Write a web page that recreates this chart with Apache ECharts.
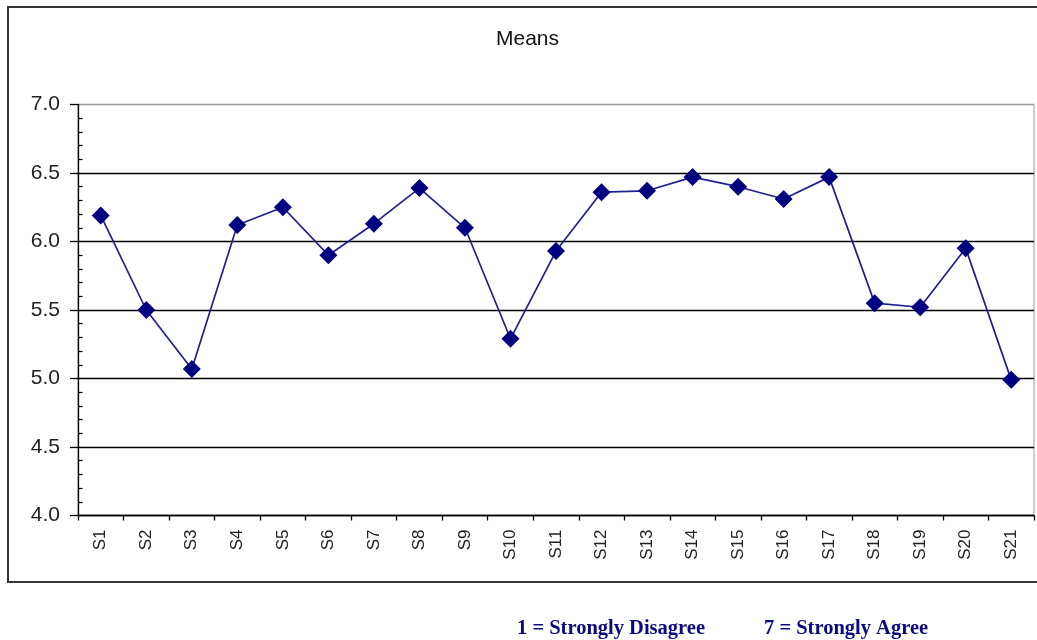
<!DOCTYPE html>
<html>
<head>
<meta charset="utf-8">
<script src="https://cdn.jsdelivr.net/npm/echarts@6/dist/echarts.min.js"></script>
<style>
html,body{margin:0;padding:0;background:#fff;}
#c{width:1037px;height:640px;}
</style>
</head>
<body>
<div id="c"></div>
<script>
const categories = ['S1','S2','S3','S4','S5','S6','S7','S8','S9','S10','S11','S12','S13','S14','S15','S16','S17','S18','S19','S20','S21'];
const means = [6.19, 5.50, 5.07, 6.12, 6.25, 5.90, 6.13, 6.39, 6.10, 5.29, 5.93, 6.36, 6.37, 6.47, 6.40, 6.31, 6.47, 5.55, 5.52, 5.95, 4.99];
const yTicks = { min: 4, max: 7, step: 0.5 };
const titleText = 'Means';
const noteLeft = '1 = Strongly Disagree';
const noteRight = '7 = Strongly Agree';

const chart = echarts.init(document.getElementById('c'), null, { renderer: 'canvas' });
const sansFont = "'Liberation Sans', Arial, sans-serif";
const gridColors = ['#000', '#000', '#000', '#000', '#000', '#000', '#9a9a9a'];
const noteFont = "bold 20.5px 'Liberation Serif', 'Times New Roman', serif";

chart.setOption({
  animation: false,
  backgroundColor: '#fff',
  title: {
    text: titleText,
    left: 496, top: 29, padding: 0,
    textStyle: { fontFamily: sansFont, fontSize: 21, fontWeight: 'normal', color: '#111' }
  },
  grid: {
    left: 78, right: 3, top: 104.5, bottom: 124.5,
    show: true, borderColor: '#9a9a9a', borderWidth: 1, backgroundColor: 'transparent'
  },
  xAxis: {
    type: 'category',
    data: categories,
    boundaryGap: true,
    axisLine: { lineStyle: { color: '#000', width: 1.3 } },
    axisTick: { show: true, length: 5, lineStyle: { color: '#000', width: 1.3 } },
    axisLabel: { rotate: 90, margin: 14, fontFamily: sansFont, fontSize: 17, color: '#222', interval: 0 },
    splitLine: { show: false }
  },
  yAxis: [
    {
      type: 'value',
      min: yTicks.min, max: yTicks.max, interval: yTicks.step,
      axisLine: { show: true, lineStyle: { color: '#000', width: 1.3 } },
      axisTick: { show: true, length: 8, lineStyle: { color: '#000', width: 1.3 } },
      axisLabel: { margin: 18, fontFamily: sansFont, fontSize: 21, color: '#222', formatter: v => v.toFixed(1) },
      splitLine: { show: true, lineStyle: { color: gridColors, width: 1.3 } }
    },
    {
      type: 'value',
      position: 'left',
      min: yTicks.min, max: yTicks.max, interval: yTicks.step,
      axisLine: { show: false },
      axisTick: { show: false, inside: true },
      minorTick: { show: true, splitNumber: 5, length: 4.5, lineStyle: { color: '#000', width: 1.3 } },
      axisLabel: { show: false },
      splitLine: { show: false }
    }
  ],
  series: [{
    type: 'line',
    name: titleText,
    data: means,
    yAxisIndex: 0,
    symbol: 'diamond',
    symbolSize: 18,
    itemStyle: { color: '#000080' },
    lineStyle: { color: '#202090', width: 1.7 },
    z: 5
  }],
  graphic: [
    {
      type: 'rect', silent: true, z: -1,
      shape: { x: 8, y: 7, width: 1040, height: 575 },
      style: { fill: 'none', stroke: '#333', lineWidth: 2 }
    },
    {
      type: 'text', left: 517, top: 618,
      style: { text: noteLeft, font: noteFont, fill: '#0a0a80' }
    },
    {
      type: 'text', left: 764, top: 618,
      style: { text: noteRight, font: noteFont, fill: '#0a0a80' }
    }
  ]
});
</script>
</body>
</html>
